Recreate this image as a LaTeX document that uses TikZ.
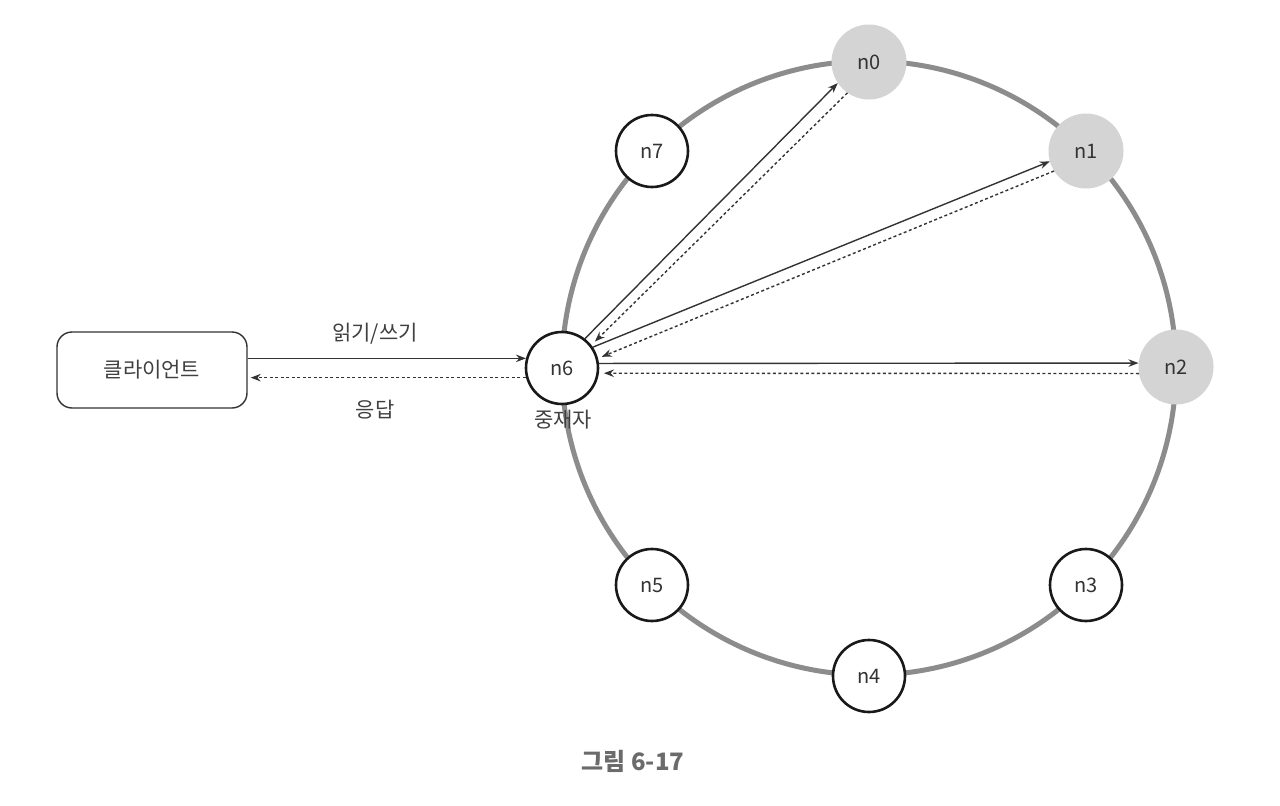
\documentclass[tikz,border=0pt]{standalone}
\usepackage{fontspec}
\setmainfont{Noto Sans CJK KR}
\usetikzlibrary{arrows.meta}
\tikzset{
  ring/.style={draw=black!45, line width=5pt},
  whitenode/.style={circle, draw=black!90, line width=2.6pt, fill=white, minimum size=72pt, inner sep=0pt, font=\fontsize{20}{24}\selectfont, text=black!80},
  graynode/.style={circle, fill=black!17, minimum size=75pt, inner sep=0pt, font=\fontsize{20}{24}\selectfont, text=black!80},
  clientbox/.style={draw=black!80, line width=1.4pt, rounded corners=15pt, minimum width=190pt, minimum height=76pt, font=\fontsize{21}{25}\selectfont, text=black!75},
  lbl/.style={font=\fontsize{21}{25}\selectfont, text=black!75},
  req/.style={draw=black!80, line width=1.4pt, -{Stealth[length=10pt,width=7.5pt]}},
  resp/.style={draw=black!80, line width=1.4pt, dash pattern=on 3pt off 2.5pt, -{Stealth[length=10pt,width=7.5pt]}},
}
\begin{document}
\begin{tikzpicture}[x=1pt,y=-1pt]
\useasboundingbox (0,0) rectangle (1280,806);
\fill[white] (0,0) rectangle (1280,806);
\coordinate (c) at (869,368);
\draw[ring] (c) circle (307);
\node[graynode] (n0) at (869,62) {n0};
\node[graynode] (n1) at (1086,151) {n1};
\node[graynode] (n2) at (1176,367) {n2};
\node[whitenode] (n3) at (1086,585) {n3};
\node[whitenode] (n4) at (869,676) {n4};
\node[whitenode] (n5) at (652,585) {n5};
\node[whitenode] (n6) at (562,368) {n6};
\node[whitenode] (n7) at (652,151) {n7};
\node[lbl, anchor=north] (med) at (563,407) {중재자};
\node[clientbox] (client) at (152,370) {클라이언트};
\node[lbl] (rw) at (375,334) {읽기/쓰기};
\node[lbl] (ans) at (375,410) {응답};
\node[font=\fontsize{24}{28}\selectfont\bfseries, text=black!58] (cap) at (633,761) {그림 6-17};
% client <-> n6
\draw[req] (client.east |- n6.165) -- (n6.165);
\draw[resp, shorten >=3pt] (n6.-165) -- (client.east |- n6.-165);
% n6 -> n0
\draw[req] (n6.52) -- (n0.-146);
\draw[resp, shorten >=5pt] (n0.-125) -- (n6.38);
% n6 -> n1
\draw[req] (n6.34) -- (n1.196);
\draw[resp, shorten >=4pt] (n1.212) -- (n6.15);
% n6 -> n2
\draw[req] (n6.7.5) -- (n2.174);
\draw[resp, shorten >=5pt] (n2.190.7) -- (n6.-8);
\end{tikzpicture}
\end{document}
